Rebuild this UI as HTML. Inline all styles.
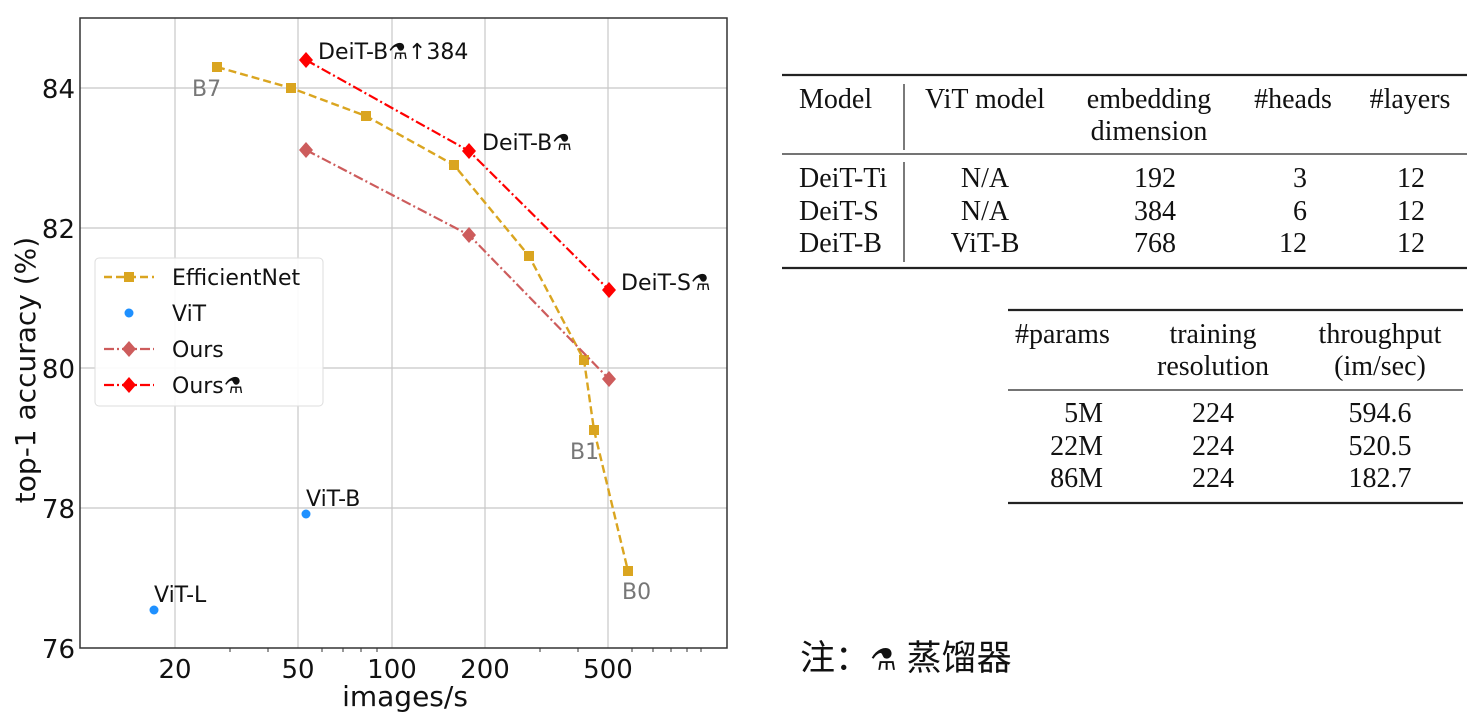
<!DOCTYPE html>
<html><head><meta charset="utf-8"><style>
body{margin:0;background:#fff;width:1473px;height:724px;overflow:hidden}
svg{display:block}
.s{font-family:"DejaVu Sans","Liberation Sans",sans-serif}
.r{font-family:"Liberation Serif",serif;font-size:28px;fill:#111}
</style></head><body>
<svg width="1473" height="724" viewBox="0 0 1473 724">
<rect width="1473" height="724" fill="#fff"/>
<g stroke="#c8c8c8" stroke-width="1.2">
<line x1="175" y1="18" x2="175" y2="648"/><line x1="298" y1="18" x2="298" y2="648"/>
<line x1="392" y1="18" x2="392" y2="648"/><line x1="485" y1="18" x2="485" y2="648"/>
<line x1="608" y1="18" x2="608" y2="648"/>
<line x1="80" y1="88" x2="727" y2="88"/><line x1="80" y1="228" x2="727" y2="228"/>
<line x1="80" y1="368" x2="727" y2="368"/><line x1="80" y1="508" x2="727" y2="508"/>
</g>
<rect x="80" y="18" width="647" height="630" fill="none" stroke="#333" stroke-width="1.5"/>
<g stroke="#333" stroke-width="1">
<line x1="230" y1="648" x2="230" y2="652"/><line x1="268" y1="648" x2="268" y2="652"/>
<line x1="322" y1="648" x2="322" y2="652"/><line x1="343" y1="648" x2="343" y2="652"/><line x1="361" y1="648" x2="361" y2="652"/><line x1="377" y1="648" x2="377" y2="652"/>
<line x1="540" y1="648" x2="540" y2="652"/><line x1="578" y1="648" x2="578" y2="652"/>
<line x1="632" y1="648" x2="632" y2="652"/><line x1="653" y1="648" x2="653" y2="652"/><line x1="671" y1="648" x2="671" y2="652"/><line x1="687" y1="648" x2="687" y2="652"/><line x1="701" y1="648" x2="701" y2="652"/>
</g>
<g class="s" font-size="26" fill="#111">
<text x="75" y="98" text-anchor="end">84</text><text x="75" y="238" text-anchor="end">82</text>
<text x="75" y="378" text-anchor="end">80</text><text x="75" y="518" text-anchor="end">78</text>
<text x="75" y="658" text-anchor="end">76</text>
<text x="175" y="678" text-anchor="middle">20</text><text x="298" y="678" text-anchor="middle">50</text>
<text x="392" y="678" text-anchor="middle">100</text><text x="485" y="678" text-anchor="middle">200</text>
<text x="608" y="678" text-anchor="middle">500</text>
<text x="405" y="706" text-anchor="middle" font-size="28">images/s</text>
<text transform="translate(35,370) rotate(-90)" text-anchor="middle" font-size="28">top-1 accuracy (%)</text>
</g>
<polyline points="217,67 291,88 366,116 454,165 529,256 584,360 594,430 628,571" fill="none" stroke="#daa520" stroke-width="2.4" stroke-dasharray="8,4"/>
<g fill="#daa520">
<rect x="212" y="62" width="10" height="10"/><rect x="286" y="83" width="10" height="10"/><rect x="361" y="111" width="10" height="10"/><rect x="449" y="160" width="10" height="10"/><rect x="524" y="251" width="10" height="10"/><rect x="579" y="355" width="10" height="10"/><rect x="589" y="425" width="10" height="10"/><rect x="623" y="566" width="10" height="10"/>
</g>
<polyline points="306,150 469,235 609,379" fill="none" stroke="#cd5c5c" stroke-width="2.2" stroke-dasharray="10,3,2,3"/>
<g fill="#cd5c5c">
<polygon points="306,142 313,150 306,158 299,150"/><polygon points="469,227 476,235 469,243 462,235"/><polygon points="609,371 616,379 609,387 602,379"/>
</g>
<polyline points="306,60 469,151 609,290" fill="none" stroke="#ff0000" stroke-width="2.2" stroke-dasharray="10,3,2,3"/>
<g fill="#ff0000">
<polygon points="306,52 313,60 306,68 299,60"/><polygon points="469,143 476,151 469,159 462,151"/><polygon points="609,282 616,290 609,298 602,290"/>
</g>
<circle cx="306" cy="514" r="4.5" fill="#1e90ff"/><circle cx="154" cy="610" r="4.5" fill="#1e90ff"/>
<g class="s" font-size="22">
<text x="192" y="96" fill="#777">B7</text><text x="570" y="459" fill="#777">B1</text><text x="622" y="599" fill="#777">B0</text>
<text x="306" y="506" fill="#111">ViT-B</text><text x="154" y="602" fill="#111">ViT-L</text>
<text x="318" y="59" fill="#111">DeiT-B⚗↑384</text><text x="482" y="150" fill="#111">DeiT-B⚗</text>
<text x="621" y="290" fill="#111">DeiT-S⚗</text>
</g>
<rect x="95" y="258" width="228" height="148" rx="4" fill="#fff" fill-opacity="0.9" stroke="#ddd"/>
<g class="s" font-size="22" fill="#111">
<line x1="104" y1="277" x2="154" y2="277" stroke="#daa520" stroke-width="2.4" stroke-dasharray="8,4"/><rect x="124" y="272" width="10" height="10" fill="#daa520"/>
<text x="172" y="285">EfficientNet</text>
<circle cx="129" cy="313" r="4.5" fill="#1e90ff"/><text x="172" y="321">ViT</text>
<line x1="104" y1="349" x2="154" y2="349" stroke="#cd5c5c" stroke-width="2.2" stroke-dasharray="10,3,2,3"/><polygon points="129,341 136,349 129,357 122,349" fill="#cd5c5c"/>
<text x="172" y="357">Ours</text>
<line x1="104" y1="385" x2="154" y2="385" stroke="#ff0000" stroke-width="2.2" stroke-dasharray="10,3,2,3"/><polygon points="129,377 136,385 129,393 122,385" fill="#ff0000"/>
<text x="172" y="393">Ours⚗</text>
</g>
<g stroke="#222">
<line x1="782" y1="75" x2="1467" y2="75" stroke-width="2.2"/>
<line x1="782" y1="154" x2="1467" y2="154" stroke-width="1.2"/>
<line x1="782" y1="268" x2="1467" y2="268" stroke-width="2.2"/>
<line x1="904" y1="84" x2="904" y2="150" stroke-width="1.2"/>
<line x1="904" y1="162" x2="904" y2="262" stroke-width="1.2"/>
</g>
<g class="r">
<text x="799" y="108">Model</text>
<text x="985" y="108" text-anchor="middle">ViT model</text>
<text x="1149" y="108" text-anchor="middle">embedding</text>
<text x="1149" y="140" text-anchor="middle">dimension</text>
<text x="1293" y="108" text-anchor="middle">#heads</text>
<text x="1410" y="108" text-anchor="middle">#layers</text>
<text x="799" y="187">DeiT-Ti</text><text x="799" y="220">DeiT-S</text><text x="799" y="252">DeiT-B</text>
<text x="985" y="187" text-anchor="middle">N/A</text><text x="985" y="220" text-anchor="middle">N/A</text><text x="985" y="252" text-anchor="middle">ViT-B</text>
<text x="1155" y="187" text-anchor="middle">192</text><text x="1155" y="220" text-anchor="middle">384</text><text x="1155" y="252" text-anchor="middle">768</text>
<text x="1307" y="187" text-anchor="end">3</text><text x="1307" y="220" text-anchor="end">6</text><text x="1307" y="252" text-anchor="end">12</text>
<text x="1411" y="187" text-anchor="middle">12</text><text x="1411" y="220" text-anchor="middle">12</text><text x="1411" y="252" text-anchor="middle">12</text>
</g>
<g stroke="#222">
<line x1="1008" y1="310" x2="1463" y2="310" stroke-width="2.2"/>
<line x1="1008" y1="390" x2="1463" y2="390" stroke-width="1.2"/>
<line x1="1008" y1="503" x2="1463" y2="503" stroke-width="2.2"/>
</g>
<g class="r">
<text x="1015" y="343">#params</text>
<text x="1213" y="343" text-anchor="middle">training</text>
<text x="1213" y="375" text-anchor="middle">resolution</text>
<text x="1380" y="343" text-anchor="middle">throughput</text>
<text x="1380" y="375" text-anchor="middle">(im/sec)</text>
<text x="1103" y="422" text-anchor="end">5M</text><text x="1103" y="455" text-anchor="end">22M</text><text x="1103" y="487" text-anchor="end">86M</text>
<text x="1213" y="422" text-anchor="middle">224</text><text x="1213" y="455" text-anchor="middle">224</text><text x="1213" y="487" text-anchor="middle">224</text>
<text x="1380" y="422" text-anchor="middle">594.6</text><text x="1380" y="455" text-anchor="middle">520.5</text><text x="1380" y="487" text-anchor="middle">182.7</text>
</g>
<text x="800" y="670" font-family="'Liberation Sans','Noto Sans CJK SC',sans-serif" font-size="35" fill="#111">注：<tspan font-family="'DejaVu Sans',sans-serif" font-size="30">⚗</tspan> 蒸馏器</text>
</svg>
</body></html>
